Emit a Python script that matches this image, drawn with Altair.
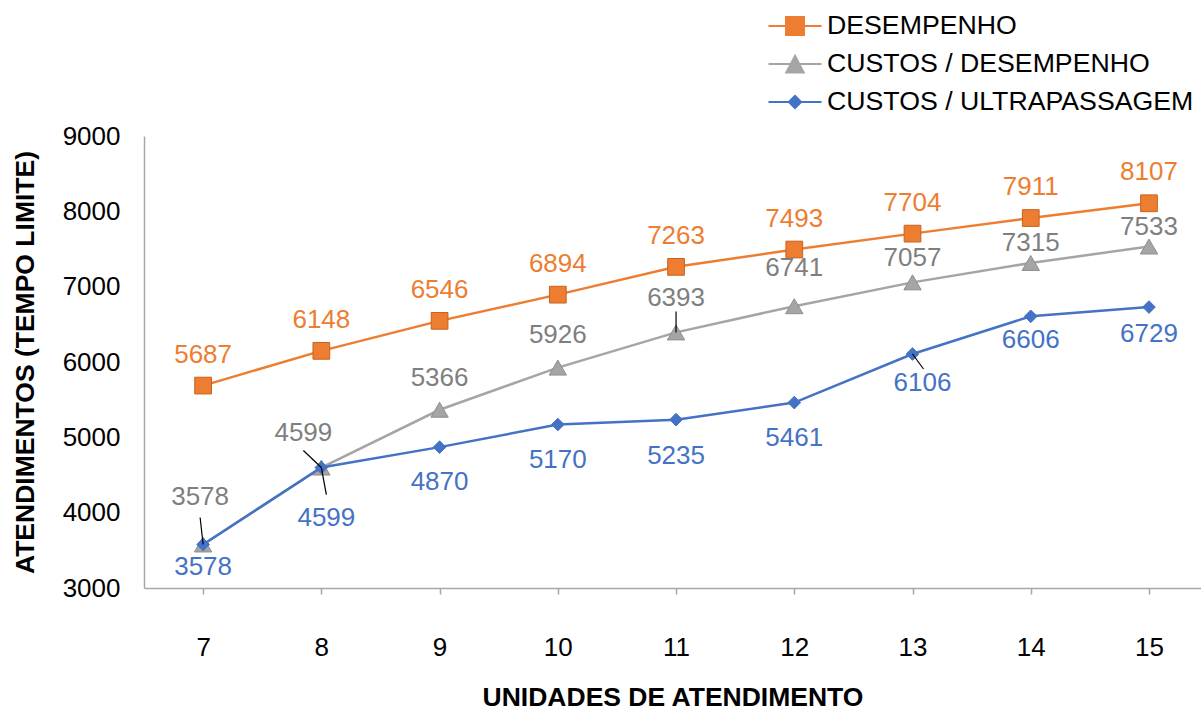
import altair as alt
import pandas as pd

# ---- data -------------------------------------------------------------
units = [7, 8, 9, 10, 11, 12, 13, 14, 15]
desempenho = [5687, 6148, 6546, 6894, 7263, 7493, 7704, 7911, 8107]
custos_desempenho = [3578, 4599, 5366, 5926, 6393, 6741, 7057, 7315, 7533]
custos_ultrapassagem = [3578, 4599, 4870, 5170, 5235, 5461, 6106, 6606, 6729]

SERIES = ["DESEMPENHO", "CUSTOS / DESEMPENHO", "CUSTOS / ULTRAPASSAGEM"]
VALUES = [desempenho, custos_desempenho, custos_ultrapassagem]

# ---- styling ----------------------------------------------------------
FONT = "Liberation Sans"
LINE_COLORS = ["#ED7D31", "#A5A5A5", "#4472C4"]
EDGE_COLORS = ["#C8621C", "#8E8E8E", "#4472C4"]
LABEL_COLORS = ["#ED7D31", "#7F7F7F", "#4472C4"]
MARKERS = [("square", 280), ("triangle-up", 300), ("diamond", 160)]
AXIS_GREY = "#A6A6A6"

# legend symbols: a short line segment with the series marker on it
LEGEND_PATHS = [
    "M-2.04,0H2.04M-0.69,-0.69H0.69V0.69H-0.69Z",
    "M-2.04,0H2.04M0,-0.63L0.67,0.65H-0.67Z",
    "M-2.04,0H2.04M-0.47,0L0,-0.47L0.47,0L0,0.47Z",
]

# label offsets in pixels from each point (dx, dy), per series
LABEL_DX = [
    [0] * 9,
    [-3, -18, 0, 0, 0, 0, 0, 0, 0],
    [0, 5, 0, 0, 0, 0, 10, 0, 0],
]
LABEL_DY = [
    [-31] * 9,
    [-47, -35, -32, -33, -34, -38, -24, -20, -20],
    [23, 50, 35, 35, 36, 35, 29, 24, 27],
]
# leader lines: end offset in pixels from the point, keyed by (series, unit)
LEADERS = {
    (1, 7): (-3, -27),
    (1, 8): (-18, -17),
    (2, 8): (5, 27),
    (1, 11): (0, -21),
    (2, 13): (11, 15),
}

# ---- plot geometry -----------------------------------------------------
W, H = 1057, 452
X_DOMAIN = [6.5, 15.44]
Y_DOMAIN = [3000, 9000]
PX_X = W / (X_DOMAIN[1] - X_DOMAIN[0])
PX_Y = H / (Y_DOMAIN[1] - Y_DOMAIN[0])

rows, leader_rows = [], []
for si, (name, vals) in enumerate(zip(SERIES, VALUES)):
    for i, (u, v) in enumerate(zip(units, vals)):
        rows.append({
            "series": name, "unit": u, "value": v,
            "lx": u + LABEL_DX[si][i] / PX_X,
            "ly": v - LABEL_DY[si][i] / PX_Y,
        })
        if (si, u) in LEADERS:
            dx, dy = LEADERS[(si, u)]
            leader_rows.append({
                "unit": u, "value": v,
                "ux2": u + dx / PX_X, "vy2": v - dy / PX_Y,
            })
df = pd.DataFrame(rows)
leaders = pd.DataFrame(leader_rows)

x_scale = alt.Scale(domain=X_DOMAIN, nice=False, zero=False)
y_scale = alt.Scale(domain=Y_DOMAIN, nice=False, zero=False)


def xenc(field):
    return alt.X(
        f"{field}:Q", scale=x_scale,
        axis=alt.Axis(
            values=units, format="d", grid=False, title="UNIDADES DE ATENDIMENTO",
            domainColor=AXIS_GREY, domainWidth=1.5, ticks=True, tickColor=AXIS_GREY,
            tickWidth=1.5, tickSize=6, labelPadding=40, titleY=109,
            titleBaseline="middle",
        ),
    )


def yenc(field):
    return alt.Y(
        f"{field}:Q", scale=y_scale,
        axis=alt.Axis(
            values=list(range(3000, 9001, 1000)), format="d", grid=False,
            title="ATENDIMENTOS (TEMPO LIMITE)", domainColor=AXIS_GREY,
            domainWidth=1.5, ticks=False, labelPadding=24, titleX=-119,
            titleY=H / 2, titleBaseline="middle",
        ),
    )


layers = []
for si, name in enumerate(SERIES):
    part = alt.Chart(df).transform_filter(alt.datum.series == name)
    layers.append(
        part.mark_line(color=LINE_COLORS[si], strokeWidth=2.5).encode(
            x=xenc("unit"), y=yenc("value")
        )
    )
    shape, size = MARKERS[si]
    layers.append(
        part.mark_point(
            shape=shape, size=size, filled=True, fill=LINE_COLORS[si],
            stroke=EDGE_COLORS[si], strokeWidth=1, opacity=1,
        ).encode(x=xenc("unit"), y=yenc("value"))
    )

leader_layer = alt.Chart(leaders).mark_rule(color="black", strokeWidth=1.2).encode(
    x=xenc("unit"), y=yenc("value"), x2="ux2:Q", y2="vy2:Q"
)
layers.append(leader_layer)

for si, name in enumerate(SERIES):
    layers.append(
        alt.Chart(df).transform_filter(alt.datum.series == name).mark_text(
            font=FONT, fontSize=26, color=LABEL_COLORS[si],
            align="center", baseline="middle",
        ).encode(x=xenc("lx"), y=yenc("ly"), text="value:Q")
    )

legend = alt.Legend(
    orient="none", legendX=637, legendY=-124, direction="vertical", title=None,
    labelFont=FONT, labelFontSize=26.7, labelColor="black", labelLimit=0,
    symbolSize=676, symbolStrokeWidth=2, symbolOpacity=1, labelOffset=18,
    rowPadding=10, padding=0,
)
legend_layer = alt.Chart(df).transform_filter("false").mark_point(filled=True).encode(
    x=xenc("unit"), y=yenc("value"),
    fill=alt.Fill("series:N", scale=alt.Scale(domain=SERIES, range=LINE_COLORS), legend=legend),
    stroke=alt.Stroke("series:N", scale=alt.Scale(domain=SERIES, range=LINE_COLORS), legend=legend),
    shape=alt.Shape("series:N", scale=alt.Scale(domain=SERIES, range=LEGEND_PATHS), legend=legend),
)
layers.append(legend_layer)

chart = alt.layer(*layers).properties(
    width=W, height=H, autosize="none",
    padding={"left": 144, "top": 136, "right": 0, "bottom": 713 - 136 - H},
).configure_view(stroke=None).configure_axis(
    labelFont=FONT, labelFontSize=26, labelColor="black",
    titleFont=FONT, titleFontSize=26.5, titleFontWeight="bold", titleColor="black",
)

chart.save("out.html", embed_options={"renderer": "svg", "actions": False})
